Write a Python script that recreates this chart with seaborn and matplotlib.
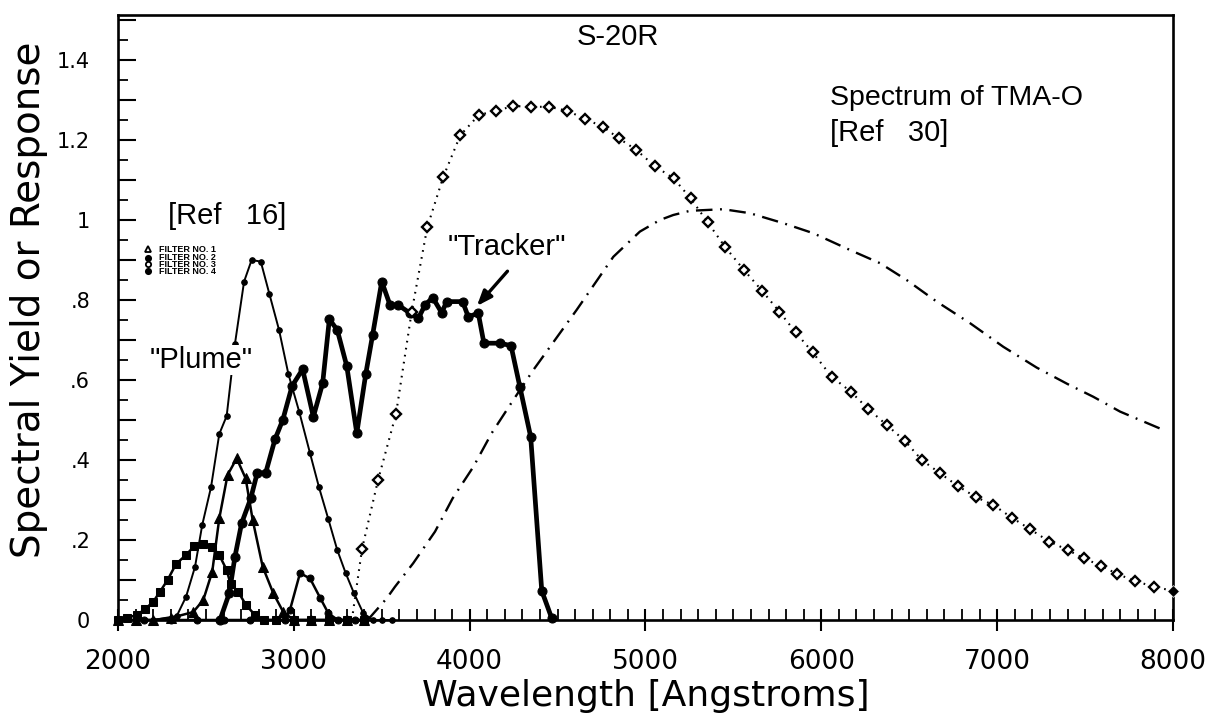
import numpy as np
import pandas as pd
import seaborn as sns
import matplotlib
matplotlib.use("Agg")
import matplotlib.pyplot as plt
from matplotlib.ticker import MultipleLocator, FixedLocator, FuncFormatter

# ---- data -------------------------------------------------------------
# Filter 1 (triangles)
f1_x = [2000, 2100, 2200, 2300, 2428, 2485, 2536, 2576, 2623, 2675, 2726, 2766,
        2823, 2883, 2940, 3000, 3100, 3200, 3300, 3400]
f1_y = [0, 0, 0, 0.005, 0.02, 0.05, 0.121, 0.254, 0.3625, 0.404, 0.354, 0.25,
        0.133, 0.067, 0.02, 0, 0, 0, 0, 0]

# Filter 2 (small dots) - the "Plume" band
f2_x = [2000, 2100, 2200, 2334, 2387, 2438, 2479, 2529, 2576, 2618, 2665, 2717,
        2760, 2812, 2861, 2916, 2969, 3031, 3092, 3143, 3196, 3247, 3295, 3342,
        3395, 3450, 3500, 3560]
f2_y = [0, 0, 0, 0.01, 0.058, 0.133, 0.2375, 0.332, 0.465, 0.51, 0.69, 0.846,
        0.9, 0.896, 0.815, 0.725, 0.615, 0.52, 0.417, 0.332, 0.2525, 0.175, 0.117,
        0.067, 0.017, 0, 0, 0]

# Filter 3 (squares)
f3_x = [2000, 2049, 2106, 2154, 2201, 2239, 2282, 2330, 2387, 2434, 2481, 2533,
        2576, 2618, 2640, 2684, 2728, 2779, 2830, 2900, 3000, 3100, 3200, 3300, 3400]
f3_y = [0, 0.005, 0.0125, 0.027, 0.046, 0.071, 0.1, 0.14, 0.1625, 0.185, 0.19,
        0.183, 0.1625, 0.125, 0.09, 0.07, 0.0375, 0.0125, 0, 0, 0, 0, 0, 0, 0]

# Filter 4 (filled circles)
f4_x = [2000, 2150, 2300, 2450, 2600, 2750, 2900, 2950, 2978, 3035, 3092, 3149,
        3196, 3250, 3300, 3350]
f4_y = [0, 0, 0, 0, 0, 0, 0, 0, 0.025, 0.117, 0.104, 0.056, 0.017, 0, 0, 0]

# "Tracker" response
trk_x = [2580, 2633, 2665, 2703, 2755, 2792, 2840, 2893, 2937, 2990, 3050, 3111,
         3164, 3202, 3247, 3301, 3358, 3409, 3448, 3500, 3547, 3594, 3661, 3708,
         3746, 3790, 3841, 3869, 3960, 3992, 4049, 4081, 4172, 4235, 4286, 4347,
         4410, 4467]
trk_y = [0, 0.067, 0.158, 0.242, 0.304, 0.368, 0.368, 0.452, 0.5, 0.585, 0.627,
         0.508, 0.592, 0.752, 0.725, 0.635, 0.467, 0.615, 0.7125, 0.846, 0.7875,
         0.7875, 0.767, 0.754, 0.7875, 0.806, 0.768, 0.796, 0.796, 0.758, 0.767,
         0.692, 0.692, 0.686, 0.582, 0.458, 0.073, 0.004]

# S-20R photocathode response (first entry is the foot of the curve)
s20_x = [3330, 3388, 3479, 3581, 3670, 3759, 3850, 3947, 4052, 4150, 4249, 4348,
         4452, 4556, 4657, 4758, 4849, 4948, 5052, 5160, 5257, 5354, 5452, 5560,
         5664, 5761, 5854, 5951, 6059, 6167, 6267, 6372, 6476, 6571, 6675, 6776,
         6880, 6978, 7083, 7187, 7297, 7401, 7494, 7589, 7683, 7784, 7892, 8000]
s20_y = [0.0, 0.178, 0.35, 0.515, 0.77, 0.982, 1.108, 1.212, 1.2625, 1.273, 1.285,
         1.283, 1.283, 1.273, 1.2525, 1.233, 1.204, 1.175, 1.135, 1.104, 1.054,
         0.994, 0.933, 0.875, 0.8225, 0.771, 0.719, 0.669, 0.608, 0.571, 0.5275,
         0.4875, 0.4475, 0.40, 0.367, 0.335, 0.307, 0.2875, 0.256, 0.227, 0.196,
         0.175, 0.154, 0.136, 0.115, 0.0975, 0.083, 0.073]

# Spectrum of TMA-O
tma_x = [3420, 3528, 3575, 3679, 3803, 3903, 4021, 4125, 4248, 4362, 4608, 4817,
         4968, 5082, 5158, 5253, 5442, 5594, 5784, 5954, 6163, 6334, 6485, 6656,
         6846, 7035, 7225, 7400, 7547, 7699, 7930]
tma_y = [0.0, 0.054, 0.083, 0.142, 0.221, 0.304, 0.383, 0.467, 0.55, 0.625, 0.775,
         0.908, 0.971, 1.0, 1.0125, 1.023, 1.027, 1.017, 0.992, 0.967, 0.925, 0.892,
         0.85, 0.796, 0.742, 0.683, 0.631, 0.59, 0.558, 0.521, 0.478]

legend_labels = ["FILTER NO. 1", "FILTER NO. 2", "FILTER NO. 3", "FILTER NO. 4"]
x_ticks = [2000, 3000, 4000, 5000, 6000, 7000, 8000]

# ---- figure -----------------------------------------------------------
sns.set_style("white")
plt.rcParams["font.family"] = ["Liberation Sans", "DejaVu Sans"]
plt.rcParams["text.color"] = "black"

fig = plt.figure(figsize=(12.10, 7.21), dpi=100)
ax = fig.add_axes([118 / 1210, 1 - 620 / 721, (1173 - 118) / 1210, (620 - 15) / 721])


def draw(x, y, **kw):
    sns.lineplot(x=x, y=y, ax=ax, sort=False, estimator=None, legend=False,
                 color="black", clip_on=False, **kw)


draw(f3_x, f3_y, lw=1.8, marker="s", markersize=5.5, markerfacecolor="black",
     markeredgecolor="black")
draw(f1_x, f1_y, lw=1.8, marker="^", markersize=7.5, markerfacecolor="black",
     markeredgecolor="black")
draw(f4_x, f4_y, lw=1.8, marker="o", markersize=5, markerfacecolor="black",
     markeredgecolor="black")
draw(f2_x, f2_y, lw=1.4, marker="o", markersize=4, markerfacecolor="black",
     markeredgecolor="black")
draw(trk_x, trk_y, lw=3.4, marker="o", markersize=6.5, markerfacecolor="black",
     markeredgecolor="black")
draw(tma_x, tma_y, lw=1.7, linestyle=(0, (7, 3.2, 0.8, 3.2)))
draw(s20_x, s20_y, lw=1.5, linestyle=(0, (0.8, 2.6)), marker="D", markersize=5.2,
     markerfacecolor="white", markeredgecolor="black", markeredgewidth=1.7,
     markevery=slice(1, len(s20_x) - 1))
sns.scatterplot(x=s20_x[-1:], y=s20_y[-1:], ax=ax, marker="D", s=36,
                color="black", clip_on=False, zorder=5, legend=False)

# ---- axes -------------------------------------------------------------
ax.set_xlim(2000, 8000)
ax.set_ylim(0, 1.5125)
for side in ["left", "right", "top", "bottom"]:
    ax.spines[side].set_visible(True)
    ax.spines[side].set_linewidth(1.9)
    ax.spines[side].set_color("black")

ax.xaxis.set_major_locator(FixedLocator(x_ticks))
ax.xaxis.set_minor_locator(MultipleLocator(100))
ax.yaxis.set_major_locator(FixedLocator(np.round(np.arange(0, 1.51, 0.1), 2)))
ax.yaxis.set_minor_locator(MultipleLocator(0.05))


def yfmt(v, pos):
    k = int(round(v * 10))
    if k % 2:
        return ""
    if k == 0:
        return "0"
    if k == 10:
        return "1"
    s = f"{v:.1f}"
    return s[1:] if s.startswith("0") else s


ax.yaxis.set_major_formatter(FuncFormatter(yfmt))
ax.tick_params(axis="x", which="major", direction="inout", length=16, width=1.5,
               pad=13, labelsize=19, bottom=True, top=False, color="black",
               labelcolor="black")
ax.tick_params(axis="x", which="minor", direction="in", length=8, width=1.3,
               bottom=True, top=False, color="black")
ax.tick_params(axis="y", which="major", direction="in", length=13, width=1.5,
               pad=20, labelsize=15, left=True, right=False, color="black",
               labelcolor="black")
ax.tick_params(axis="y", which="minor", direction="in", length=7, width=1.3,
               left=True, right=False, color="black")

tick_font = ["DejaVu Sans"]
for lab in ax.get_xticklabels() + ax.get_yticklabels():
    lab.set_family(tick_font)

ax.set_xlabel("Wavelength [Angstroms]", fontsize=26, family=tick_font,
              color="black", labelpad=3)
ax.set_ylabel("Spectral Yield or Response", fontsize=28, family=tick_font,
              color="black")
ax.yaxis.set_label_coords(-0.066, 0.53)

# ---- annotations ------------------------------------------------------
txt = dict(fontsize=21, color="black", va="center")
ax.text(4844, 1.4575, "S-20R", ha="center", **txt)
ax.text(6049, 1.305, "Spectrum of TMA-O", ha="left", fontsize=20.5,
        color="black", va="center")
ax.text(6049, 1.2175, "[Ref   30]", ha="left", **txt)
ax.text(2284, 1.01, "[Ref   16]", ha="left", **txt)
ax.text(2182, 0.65, "\"Plume\"", ha="left", zorder=6,
        bbox=dict(facecolor="white", edgecolor="none", pad=0.5), **txt)
ax.text(3877, 0.9325, "\"Tracker\"", ha="left", **txt)
ax.annotate("", xy=(4041, 0.785), xytext=(4215, 0.872),
            arrowprops=dict(arrowstyle="-|>,head_length=0.9,head_width=0.35",
                            color="black", lw=2.4, shrinkA=0, shrinkB=0))

# filter key
key_y = [0.9275, 0.906, 0.889, 0.8725]
key_style = [dict(marker="^", mfc="white"), dict(marker="o", mfc="black"),
             dict(marker="o", mfc="white"), dict(marker="o", mfc="black")]
for yy, lab, st in zip(key_y, legend_labels, key_style):
    ax.plot([2170], [yy], ls="none", marker=st["marker"], markersize=3.8,
            markerfacecolor=st["mfc"], markeredgecolor="black", markeredgewidth=1.3)
    ax.text(2232, yy, lab, fontsize=6.5, fontweight="bold", ha="left",
            va="center", color="black")

fig.savefig("out.png", dpi=100)
